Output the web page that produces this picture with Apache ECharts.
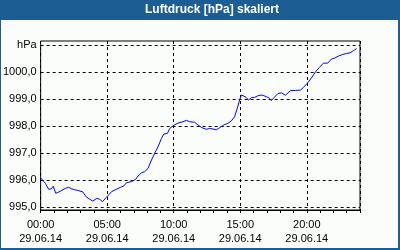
<!DOCTYPE html>
<html><head><meta charset="utf-8">
<script src="https://cdn.jsdelivr.net/npm/echarts@6/dist/echarts.min.js"></script>
<style>html,body{margin:0;padding:0;background:#fafdfa}#c{width:400px;height:250px}</style>
</head><body><div id="c"></div><script>
const chartTitle = 'Luftdruck [hPa] skaliert';
const hours = [0,0.15,0.35,0.6,0.8,0.95,1.13,1.3,1.6,1.85,2.1,2.3,2.55,2.75,2.85,3.17,3.42,3.68,3.92,4.05,4.22,4.43,4.65,4.95,5.33,5.7,6.0,6.25,6.45,6.83,7.15,7.32,7.58,7.82,8.07,8.33,8.57,8.82,9.08,9.25,9.53,9.7,9.95,10.32,10.7,10.95,11.2,11.57,11.82,12.12,12.45,12.7,12.95,13.2,13.45,13.77,14.07,14.33,14.57,14.78,14.95,15.08,15.27,15.45,15.62,15.83,16.07,16.32,16.62,16.95,17.2,17.33,17.57,17.82,18.1,18.4,18.77,19.15,19.52,19.75,20.03,20.35,20.67,20.95,21.25,21.57,21.85,22.07,22.37,22.7,23.0,23.25,23.5,23.75];
const pressure = [996.08,996.04,995.88,995.66,995.67,995.77,995.51,995.54,995.62,995.69,995.73,995.68,995.64,995.62,995.57,995.56,995.38,995.29,995.22,995.25,995.32,995.29,995.20,995.36,995.57,995.66,995.73,995.78,995.90,995.94,996.03,996.15,996.27,996.31,996.43,996.74,996.99,997.23,997.54,997.70,997.73,997.91,998.01,998.11,998.16,998.21,998.16,998.14,998.04,997.94,997.88,997.91,997.89,997.86,997.94,998.04,998.10,998.19,998.34,998.66,998.96,999.15,999.11,999.06,998.96,999.05,999.06,999.12,999.15,999.09,999.03,998.94,999.07,999.20,999.23,999.14,999.31,999.32,999.33,999.43,999.58,999.78,1000.02,1000.17,1000.33,1000.33,1000.48,1000.51,1000.59,1000.65,1000.69,1000.71,1000.79,1000.87];
const yTicks = [995,996,997,998,999,1000,1001];
const yTickLabels = ['995,0','996,0','997,0','998,0','999,0','1000,0','hPa'];
const xTicks = [0,5,10,15,20];
const xTickLabels = ['00:00','05:00','10:00','15:00','20:00'];
const dateLabel = '29.06.14';

const chart = echarts.init(document.getElementById('c'), null, {renderer:'canvas'});
const FONT = 'Liberation Sans';
chart.setOption({
  animation:false,
  backgroundColor:'#fafdfa',
  textStyle:{fontFamily:FONT},
  grid:{left:40,right:40,top:41,bottom:40,show:true,borderColor:'#000',borderWidth:1,backgroundColor:'transparent'},
  xAxis:[{
    type:'value',min:0,max:24,interval:5,position:'bottom',
    axisLine:{show:true,lineStyle:{color:'#000',width:1}},
    axisTick:{show:false},
    splitLine:{show:true,lineStyle:{color:'#000',width:1,type:[3,3]}},
    axisLabel:{color:'#000',fontSize:11,fontFamily:FONT,lineHeight:14,margin:8,
      formatter:function(v){const i=xTicks.indexOf(v);return i<0?'':xTickLabels[i]+'\n'+dateLabel;}}
  },{
    type:'value',min:0,max:24,interval:1,position:'bottom',
    axisLine:{show:false},
    axisTick:{show:true,length:3,lineStyle:{color:'#000',width:1}},
    axisLabel:{show:false},
    splitLine:{show:false}
  }],
  yAxis:{
    type:'value',min:994.89,max:1001.15,
    axisLine:{show:false},
    axisTick:{show:false,customValues:yTicks},
    splitLine:{show:true,lineStyle:{color:'#000',width:1,type:[3,3]}},
    axisLabel:{customValues:yTicks,color:'#000',fontSize:11,fontFamily:FONT,margin:4,
      formatter:function(v){const i=yTicks.indexOf(Math.round(v*100)/100);return i<0?'':yTickLabels[i];}}
  },
  series:[{type:'line',xAxisIndex:0,yAxisIndex:0,data:hours.map((h,i)=>[h,pressure[i]]),
    showSymbol:false,symbol:'none',lineStyle:{color:'#0000ff',width:1},itemStyle:{color:'#0000ff'}}],
  graphic:[
    {type:'rect',shape:{x:0,y:0,width:400,height:20},style:{fill:'#1c5e94'},z:10},
    {type:'text',x:212,y:10,style:{text:chartTitle,fill:'#fff',font:'bold 12px "Liberation Sans"',textAlign:'center',textVerticalAlign:'middle'},z:11},
    {type:'rect',shape:{x:0,y:0,width:1,height:250},style:{fill:'#1c5e94'},z:10},
    {type:'rect',shape:{x:398,y:0,width:2,height:250},style:{fill:'#1c5e94'},z:10},
    {type:'rect',shape:{x:0,y:248,width:400,height:2},style:{fill:'#1c5e94'},z:10}
  ]
});
</script></body></html>
